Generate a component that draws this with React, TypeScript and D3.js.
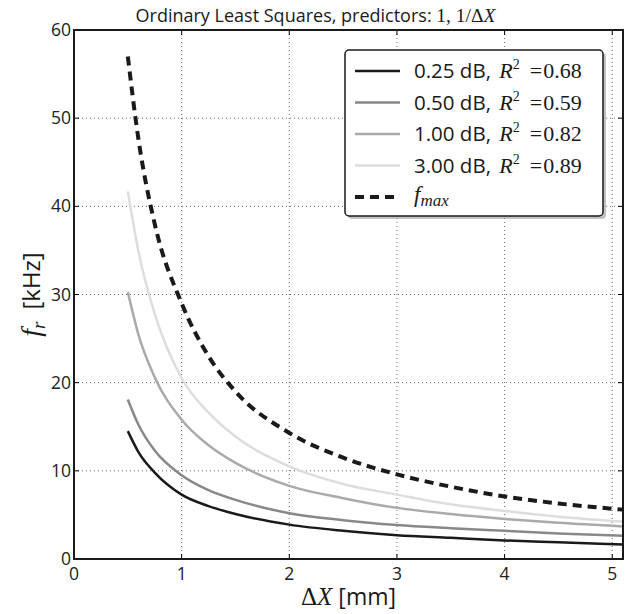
import React from 'react';
import * as d3 from 'd3';

const xValues = [0.5, 0.6, 0.75, 1, 1.25, 1.5, 2, 2.5, 3, 3.5, 4, 4.5, 5.1];
const s025 = [14.5, 12.1, 9.8, 7.3, 6.0, 5.1, 3.9, 3.2, 2.7, 2.4, 2.1, 1.9, 1.65];
const s050 = [18.1, 15.2, 12.3, 9.5, 7.8, 6.7, 5.2, 4.4, 3.85, 3.5, 3.2, 2.9, 2.65];
const s100 = [30.3, 25.4, 20.6, 15.8, 12.9, 10.9, 8.3, 6.9, 5.8, 5.1, 4.55, 4.1, 3.7];
const s300 = [41.7, 34.8, 27.8, 20.5, 16.6, 13.9, 10.5, 8.5, 7.3, 6.2, 5.45, 4.8, 4.25];
const fmax = [57, 47.5, 38, 29, 23, 19, 14.3, 11.5, 9.6, 8.2, 7.1, 6.3, 5.6];

const seriesLabels = ['0.25 dB', '0.50 dB', '1.00 dB', '3.00 dB'];
const r2Values = ['0.68', '0.59', '0.82', '0.89'];
const xTicks = [0, 1, 2, 3, 4, 5];
const yTicks = [0, 10, 20, 30, 40, 50, 60];

const W = 631, H = 614;
const L = 74, R = 623, T = 30, B = 559;
const sans = '"Open Sans", "DejaVu Sans", sans-serif';
const serif = '"Liberation Serif", "DejaVu Serif", serif';
const lineColors = ['#1a1a1a', '#888888', '#aaaaaa', '#dddddd'];

export default function App() {
  const x = d3.scaleLinear().domain([0, 5.1]).range([L, R]);
  const y = d3.scaleLinear().domain([0, 60]).range([B, T]);
  const line = d3.line<number>()
    .x((_, i) => x(xValues[i]))
    .y((d) => y(d))
    .curve(d3.curveMonotoneX);
  const series = [s025, s050, s100, s300];

  const legX = 345, legY = 50, legW = 258, legH = 166;
  const rowY = (i: number) => legY + 21 + i * 31.5;

  return (
    <svg width={W} height={H} style={{ position: 'absolute', left: 0, top: 0, background: '#fff' }}>
      <rect x={0} y={0} width={W} height={H} fill="#fff" />
      {xTicks.map((t) => (
        <line key={'gx' + t} x1={x(t)} x2={x(t)} y1={T} y2={B} stroke="#000" strokeWidth={0.6} strokeDasharray="1,3" />
      ))}
      {yTicks.map((t) => (
        <line key={'gy' + t} x1={L} x2={R} y1={y(t)} y2={y(t)} stroke="#000" strokeWidth={0.6} strokeDasharray="1,3" />
      ))}
      {series.map((s, i) => (
        <path key={'s' + i} d={line(s) || ''} fill="none" stroke={lineColors[i]} strokeWidth={2.5} />
      ))}
      <path d={line(fmax) || ''} fill="none" stroke="#1a1a1a" strokeWidth={4} strokeDasharray="9,6" />
      {xTicks.map((t) => (
        <g key={'tx' + t}>
          <line x1={x(t)} x2={x(t)} y1={B} y2={B - 5} stroke="#000" strokeWidth={1} />
          <line x1={x(t)} x2={x(t)} y1={T} y2={T + 5} stroke="#000" strokeWidth={1} />
          <text x={x(t)} y={B + 21} textAnchor="middle" fontFamily={sans} fontSize={17.5} fill="#222">{t}</text>
        </g>
      ))}
      {yTicks.map((t) => (
        <g key={'ty' + t}>
          <line x1={L} x2={L + 5} y1={y(t)} y2={y(t)} stroke="#000" strokeWidth={1} />
          <line x1={R} x2={R - 5} y1={y(t)} y2={y(t)} stroke="#000" strokeWidth={1} />
          <text x={L - 3} y={y(t) + 6} textAnchor="end" fontFamily={sans} fontSize={17.5} fill="#222">{t}</text>
        </g>
      ))}
      <rect x={L} y={T} width={R - L} height={B - T} fill="none" stroke="#1a1a1a" strokeWidth={2} />
      {/* legend */}
      <rect x={legX + 3} y={legY + 3} width={legW} height={legH} rx={4} fill="#999" opacity={0.6} />
      <rect x={legX} y={legY} width={legW} height={legH} rx={4} fill="#fff" stroke="#1a1a1a" strokeWidth={1.5} />
      {seriesLabels.map((lab, i) => (
        <g key={'lg' + i}>
          <line x1={legX + 10} x2={legX + 55} y1={rowY(i)} y2={rowY(i)} stroke={lineColors[i]} strokeWidth={2.5} />
          <text x={legX + 69} y={rowY(i) + 7} fill="#1a1a1a">
            <tspan fontFamily={sans} fontSize={20.5}>{lab}, </tspan>
            <tspan fontFamily={serif} fontStyle="italic" fontSize={22} dx={3}>R</tspan>
            <tspan fontFamily={serif} fontSize={14} dy={-9}>2</tspan>
            <tspan fontFamily={serif} fontSize={22} dy={9} dx={10}>=</tspan>
            <tspan fontFamily={serif} fontSize={22} dx={1}>{r2Values[i]}</tspan>
          </text>
        </g>
      ))}
      <line x1={legX + 10} x2={legX + 55} y1={rowY(4)} y2={rowY(4)} stroke="#1a1a1a" strokeWidth={4} strokeDasharray="9,6" />
      <text x={legX + 69} y={rowY(4) + 5} fill="#1a1a1a">
        <tspan fontFamily={serif} fontStyle="italic" fontSize={23}>f</tspan>
        <tspan fontFamily={serif} fontStyle="italic" fontSize={17} dy={4}>max</tspan>
      </text>
      {/* title */}
      <text x={W / 2} y={22} textAnchor="middle" fill="#1a1a1a">
        <tspan fontFamily={sans} fontSize={18}>Ordinary Least Squares, predictors: </tspan>
        <tspan fontFamily={serif} fontSize={19.5}>1, 1/Δ</tspan>
        <tspan fontFamily={serif} fontSize={19.5} fontStyle="italic">X</tspan>
      </text>
      {/* x label */}
      <text x={(L + R) / 2} y={605} textAnchor="middle" fill="#1a1a1a">
        <tspan fontFamily={serif} fontSize={25}>Δ</tspan>
        <tspan fontFamily={serif} fontSize={25} fontStyle="italic">X</tspan>
        <tspan fontFamily={sans} fontSize={23} dx={6}>[mm]</tspan>
      </text>
      {/* y label */}
      <text transform={`translate(40, ${(T + B) / 2}) rotate(-90)`} textAnchor="middle" fill="#1a1a1a">
        <tspan fontFamily={serif} fontSize={28} fontStyle="italic">f</tspan>
        <tspan fontFamily={serif} fontSize={19} fontStyle="italic" dy={5}>r</tspan>
        <tspan fontFamily={sans} fontSize={24} dy={-5} dx={12}>[kHz]</tspan>
      </text>
    </svg>
  );
}
